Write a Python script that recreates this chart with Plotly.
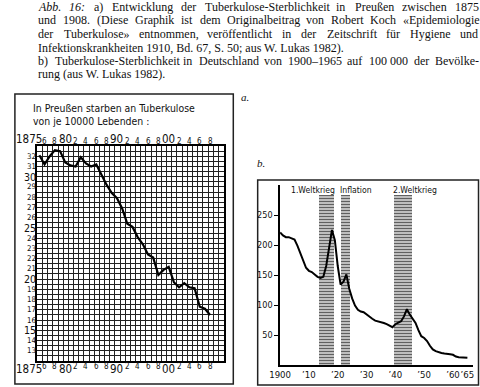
import plotly.graph_objects as go

W, H = 480, 387

# ---------------- caption text ----------------
caption_lines = [
    "Abb. 16: a) Entwicklung der Tuberkulose-Sterblichkeit in Preußen zwischen 1875",
    "und 1908. (Diese Graphik ist dem Originalbeitrag von Robert Koch «Epidemiologie",
    "der Tuberkulose» entnommen, veröffentlicht in der Zeitschrift für Hygiene und",
    "Infektionskrankheiten 1910, Bd. 67, S. 50; aus W. Lukas 1982).",
    "b) Tuberkulose-Sterblichkeit in Deutschland von 1900–1965 auf 100\u00a0000 der Bevölke-",
    "rung (aus W. Lukas 1982).",
]
caption_justified = [True, True, True, False, True, False]
caption_italic_words = ["Abb.", "16:"]
caption_y = [6.7, 20.3, 34, 47.7, 61.3, 74.3]

# ---------------- chart a: Preußen 1875-1908 ----------------
title_a = ["In Preußen starben an Tuberkulose", "von je 10000 Lebenden :"]
years_a = list(range(1875, 1909))
deaths_a = [32.1, 31.2, 32.0, 32.6, 32.5, 31.4, 31.1, 31.0, 31.9, 31.3,
            31.0, 31.2, 30.2, 29.2, 28.4, 27.9, 26.9, 25.4, 25.1, 24.1,
            23.4, 22.4, 22.1, 20.4, 20.9, 21.2, 19.7, 19.2, 19.6, 19.2,
            19.1, 17.3, 17.1, 16.5]
xtick_years_a = [1875, 1876, 1878, 1880, 1882, 1884, 1886, 1888, 1890, 1892,
                 1894, 1896, 1898, 1900, 1902, 1904, 1906, 1908]
xtick_text_a = ["1875", "6", "8", "80", "2", "4", "6", "8", "90", "2",
                "4", "6", "8", "00", "2", "4", "6", "8"]
ytick_vals_a = list(range(32, 12, -1))
ytick_text_a = [str(v) for v in ytick_vals_a]
ytick_big_a = [30, 25, 20, 15]

# ---------------- chart b: Deutschland 1900-1965 ----------------
years_b = list(range(1900, 1966))
rate_b = [221, 216, 213, 213, 211, 209, 199, 186, 172, 162,
          157, 155, 151, 147, 145, 147, 165, 195, 225, 208,
          165, 134, 139, 151, 127, 111, 99, 92, 89, 88,
          84, 80, 77, 74, 73, 71, 70, 68, 66, 63,
          68, 70, 73, 81, 93, 84, 78, 70, 58, 48,
          45, 40, 32, 26, 23, 21, 20, 19, 19, 18,
          17, 14, 13, 13, 12, 12]
band_names = ["1.Weltkrieg", "Inflation", "2.Weltkrieg"]
band_start = [1913.5, 1921.0, 1939.6]
band_end = [1918.6, 1924.4, 1945.7]
band_top = 283
xtick_vals_b = [1900, 1910, 1920, 1930, 1940, 1950, 1960, 1965]
xtick_text_b = ["1900", "’10", "’20", "’30", "’40", "’50", "’60", "’65"]
ytick_vals_b = [50, 100, 150, 200, 250]

SERIF = "Liberation Serif, Times New Roman, serif"
NARROW = "DejaVu Sans Condensed, sans-serif"
CAP_SIZE = 12
CAP_LEFT, CAP_RIGHT = 28, 479

# Times / Liberation Serif advance widths (1/1000 em)
_TW = dict(zip("ABCDEFGHIJKLMNOPQRSTUVWXYZ",
               [722, 667, 667, 722, 611, 556, 722, 722, 333, 389, 722, 611, 889,
                722, 722, 556, 722, 667, 556, 611, 722, 722, 944, 722, 722, 611]))
_TW.update(zip("abcdefghijklmnopqrstuvwxyz",
               [444, 500, 444, 500, 444, 333, 500, 500, 278, 278, 500, 278, 778,
                500, 500, 500, 500, 333, 389, 278, 500, 500, 722, 500, 500, 444]))
_TW.update({c: 500 for c in "0123456789«»–ßöüä"})
_TW.update({" ": 250, "\u00a0": 250, ".": 250, ",": 250, ":": 278, ";": 278,
            "(": 333, ")": 333, "-": 333})
_TWI = dict(_TW)
_TWI.update({"A": 611, ":": 333})


def word_width(w, italic=False):
    tbl = _TWI if italic else _TW
    return sum(tbl.get(c, 500) for c in w) / 1000 * CAP_SIZE


def px(x):
    return x / W


def py(y):
    return 1 - y / H


fig = go.Figure()

# chart a line
fig.add_trace(go.Scatter(x=years_a, y=deaths_a, xaxis="x", yaxis="y", mode="lines",
                         line=dict(color="black", width=2.2), showlegend=False,
                         hoverinfo="skip"))

# chart b bands
for s, e in zip(band_start, band_end):
    fig.add_trace(go.Bar(x=[(s + e) / 2], y=[band_top], width=[e - s], base=0,
                         xaxis="x2", yaxis="y2", showlegend=False, hoverinfo="skip",
                         marker=dict(color="#cfcfcf", line_width=0,
                                     pattern=dict(shape="-", fgcolor="#606060",
                                                  bgcolor="#d2d2d2", size=3,
                                                  solidity=0.45, fillmode="replace"))))

# chart b line
fig.add_trace(go.Scatter(x=years_b, y=rate_b, xaxis="x2", yaxis="y2", mode="lines",
                         line=dict(color="black", width=2), showlegend=False,
                         hoverinfo="skip"))

annotations = []


def add_text(text, x, y, size, family, xanchor="left", yanchor="middle", xref="paper",
             yref="paper", color="#111"):
    annotations.append(dict(text=text, x=x, y=y, xref=xref, yref=yref, xanchor=xanchor,
                            yanchor=yanchor, showarrow=False, borderpad=0, borderwidth=0,
                            font=dict(family=family, size=size, color=color)))


# caption, justified word by word
for line, just, yy in zip(caption_lines, caption_justified, caption_y):
    words = line.split(" ")
    ital = [w in caption_italic_words for w in words]
    if just:
        widths = [word_width(w, it) for w, it in zip(words, ital)]
        gap = (CAP_RIGHT - CAP_LEFT - sum(widths)) / (len(words) - 1)
        x = CAP_LEFT
        for w, it, wd in zip(words, ital, widths):
            add_text(f"<i>{w}</i>" if it else w, px(x), py(yy), CAP_SIZE, SERIF)
            x += wd + gap
    else:
        add_text(line, px(CAP_LEFT), py(yy), CAP_SIZE, SERIF)

add_text("<i>a.</i>", px(236), py(97), 11, SERIF)
add_text("<i>b.</i>", px(252), py(163), 11, SERIF)

# chart a title
for i, t in enumerate(title_a):
    add_text(t, px(23), py(108.5 + 12 * i), 10.4, NARROW)

# chart a x tick labels (top and bottom)
for yr, t in zip(xtick_years_a, xtick_text_a):
    big = len(t) > 1
    size = 11.5 if big else 8
    xa = "right" if t == "1875" else "center"
    xx = yr + 0.6 if t == "1875" else yr
    add_text(t, xx, py(146), size, NARROW, xanchor=xa, yanchor="bottom", xref="x")
    add_text(t, xx, py(362), size, NARROW, xanchor=xa, yanchor="top", xref="x")

# chart a y tick labels
for v, t in zip(ytick_vals_a, ytick_text_a):
    big = v in ytick_big_a
    add_text(t, px(25.5), v, 10.6 if big else 7.8, NARROW, xanchor="right", yref="y")

# chart b band labels
band_anchor = ["right", "left", "left"]
for name, s, e, a in zip(band_names, band_start, band_end, band_anchor):
    add_text(name, e + 0.5 if a == "right" else s - 0.3, py(189.5), 8.6, NARROW,
             xanchor=a, xref="x2")

shapes = [
    dict(type="rect", xref="paper", yref="paper", x0=px(4), x1=px(228), y0=py(384), y1=py(94),
         line=dict(color="#222", width=1.5)),
    dict(type="rect", xref="paper", yref="paper", x0=px(253), x1=px(479.5), y0=py(385),
         y1=py(180), line=dict(color="#222", width=1.5)),
]

grid_axis = dict(showgrid=True, gridcolor="#222", gridwidth=1, showticklabels=False,
                 ticks="", showline=True, mirror=True, linecolor="black", linewidth=2,
                 zeroline=False, fixedrange=True)

fig.update_layout(
    width=W, height=H, margin=dict(l=0, r=0, t=0, b=0),
    paper_bgcolor="white", plot_bgcolor="white", showlegend=False,
    bargap=0,
    xaxis=dict(domain=[px(27), px(218)], range=[1874.6, 1910.6], tick0=1874.6, dtick=1,
               anchor="y", **grid_axis),
    yaxis=dict(domain=[py(361), py(146)], range=[12, 33], tick0=12, dtick=0.5,
               anchor="x", **grid_axis),
    xaxis2=dict(domain=[px(276), px(474)], range=[1900, 1967], anchor="y2",
                tickvals=xtick_vals_b, ticktext=xtick_text_b, ticks="", showgrid=False,
                tickangle=0, showline=True, linecolor="black", linewidth=1.5,
                zeroline=False, tickfont=dict(family=NARROW, size=9.5, color="#111")),
    yaxis2=dict(domain=[py(365), py(185)], range=[0, 300], anchor="x2",
                tickvals=ytick_vals_b, ticks="outside", ticklen=4, tickcolor="black",
                showgrid=False, showline=True, linecolor="black", linewidth=1.5,
                zeroline=False, tickfont=dict(family=NARROW, size=9, color="#111")),
    annotations=annotations,
    shapes=shapes,
)

fig.write_html("out.html", post_script="document.body.style.margin='0';",
               config={"displayModeBar": False})
